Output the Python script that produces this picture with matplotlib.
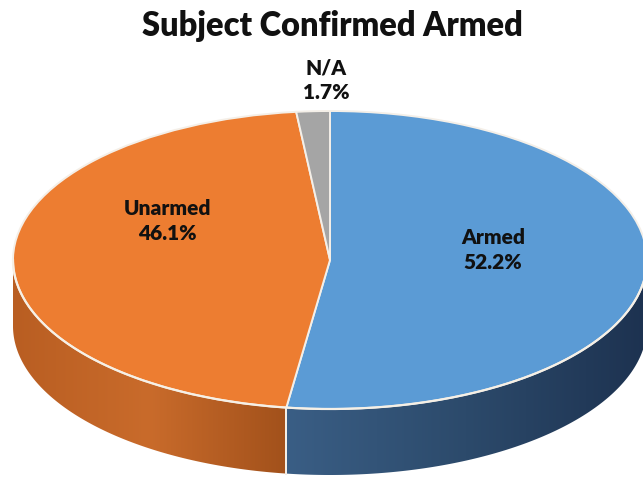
import numpy as np
import matplotlib
matplotlib.use("Agg")
import matplotlib.pyplot as plt
from matplotlib.colors import LinearSegmentedColormap
from matplotlib.patches import Polygon

# ---- data ----
categories = ["Armed", "Unarmed", "N/A"]
values = [52.2, 46.1, 1.7]
pct_labels = ["52.2%", "46.1%", "1.7%"]
top_colors = ["#5b9bd5", "#ed7d31", "#a5a5a5"]
side_colors = [["#3a5e85", "#2c4a6b", "#1d3250"],
               ["#b95e22", "#c96b2b", "#a2511b"],
               ["#7f7f7f", "#6f6f6f", "#5f5f5f"]]
title = "Subject Confirmed Armed"

# ---- geometry (pixels) ----
W, H = 643, 481
cx, cy = 330, 261          # ellipse center (image coords, y down)
rx, ry = 317, 149          # ellipse radii
depth = 66                 # side wall height in pixels

fig = plt.figure(figsize=(W / 100, H / 100), dpi=100)
ax = fig.add_axes([0, 0, 1, 1])
ax.set_facecolor("white")

wedges, _ = ax.pie(values, startangle=90, counterclock=False, colors=top_colors,
                   radius=1, center=(0, 0),
                   wedgeprops=dict(edgecolor="#f4efe8", linewidth=1.4, zorder=5))
cy_up = H - cy
ax.set_aspect("auto")
ax.axis("off")

d = depth / ry


def front_range(t1, t2):
    # visible (front, lower half) angular range of wedge [t1, t2]
    res = []
    for shift in (-720, -360, 0, 360):
        a, b = t1 + shift, t2 + shift
        lo, hi = max(a, 180), min(b, 360)
        if hi > lo:
            res.append((lo, hi))
    return res


for w, sc in zip(wedges, side_colors):
    for lo, hi in front_range(w.theta1, w.theta2):
        t = np.radians(np.linspace(lo, hi, 200))
        xt, yt = np.cos(t), np.sin(t)
        xs = np.concatenate([xt, xt[::-1]])
        ys = np.concatenate([yt, yt[::-1] - d])
        poly = Polygon(np.column_stack([xs, ys]), closed=True, facecolor="none",
                       edgecolor="none", zorder=2)
        ax.add_patch(poly)
        cmap = LinearSegmentedColormap.from_list("g", sc)
        grad = np.linspace(0, 1, 256).reshape(1, -1)
        im = ax.imshow(grad, cmap=cmap, aspect="auto",
                       extent=(xs.min(), xs.max(), ys.min(), ys.max()),
                       zorder=2, interpolation="bilinear")
        im.set_clip_path(poly)
        for ang in (lo, hi):
            if ang not in (180, 360):
                a = np.radians(ang)
                ax.plot([np.cos(a), np.cos(a)], [np.sin(a), np.sin(a) - d],
                        color="#f4efe8", lw=1.4, zorder=3)

# light rim along the front edge of the top face
t = np.radians(np.linspace(180, 360, 300))
ax.plot(np.cos(t), np.sin(t), color="#f6f0e6", lw=1.6, zorder=6)

ax.set_xlim((0 - cx) / rx, (W - cx) / rx)
ax.set_ylim((0 - cy_up) / ry, (H - cy_up) / ry)


def px(x, y):
    return x / W, 1 - y / H


label_pos = [(493, 250), (167, 221), (326, 80)]
for cat, pl, (x, y) in zip(categories, pct_labels, label_pos):
    fx, fy = px(x, y)
    fig.text(fx, fy, f"{cat}\n{pl}", ha="center", va="center", fontsize=15,
             fontweight=800, family="Lato", color="#111111", linespacing=1.35,
             zorder=10)

fx, fy = px(332, 26)
fig.text(fx, fy, title, ha="center", va="center", fontsize=23.5, fontweight=800,
         family="Lato", color="#111111")

fig.savefig("out.png", dpi=100, facecolor="white")
